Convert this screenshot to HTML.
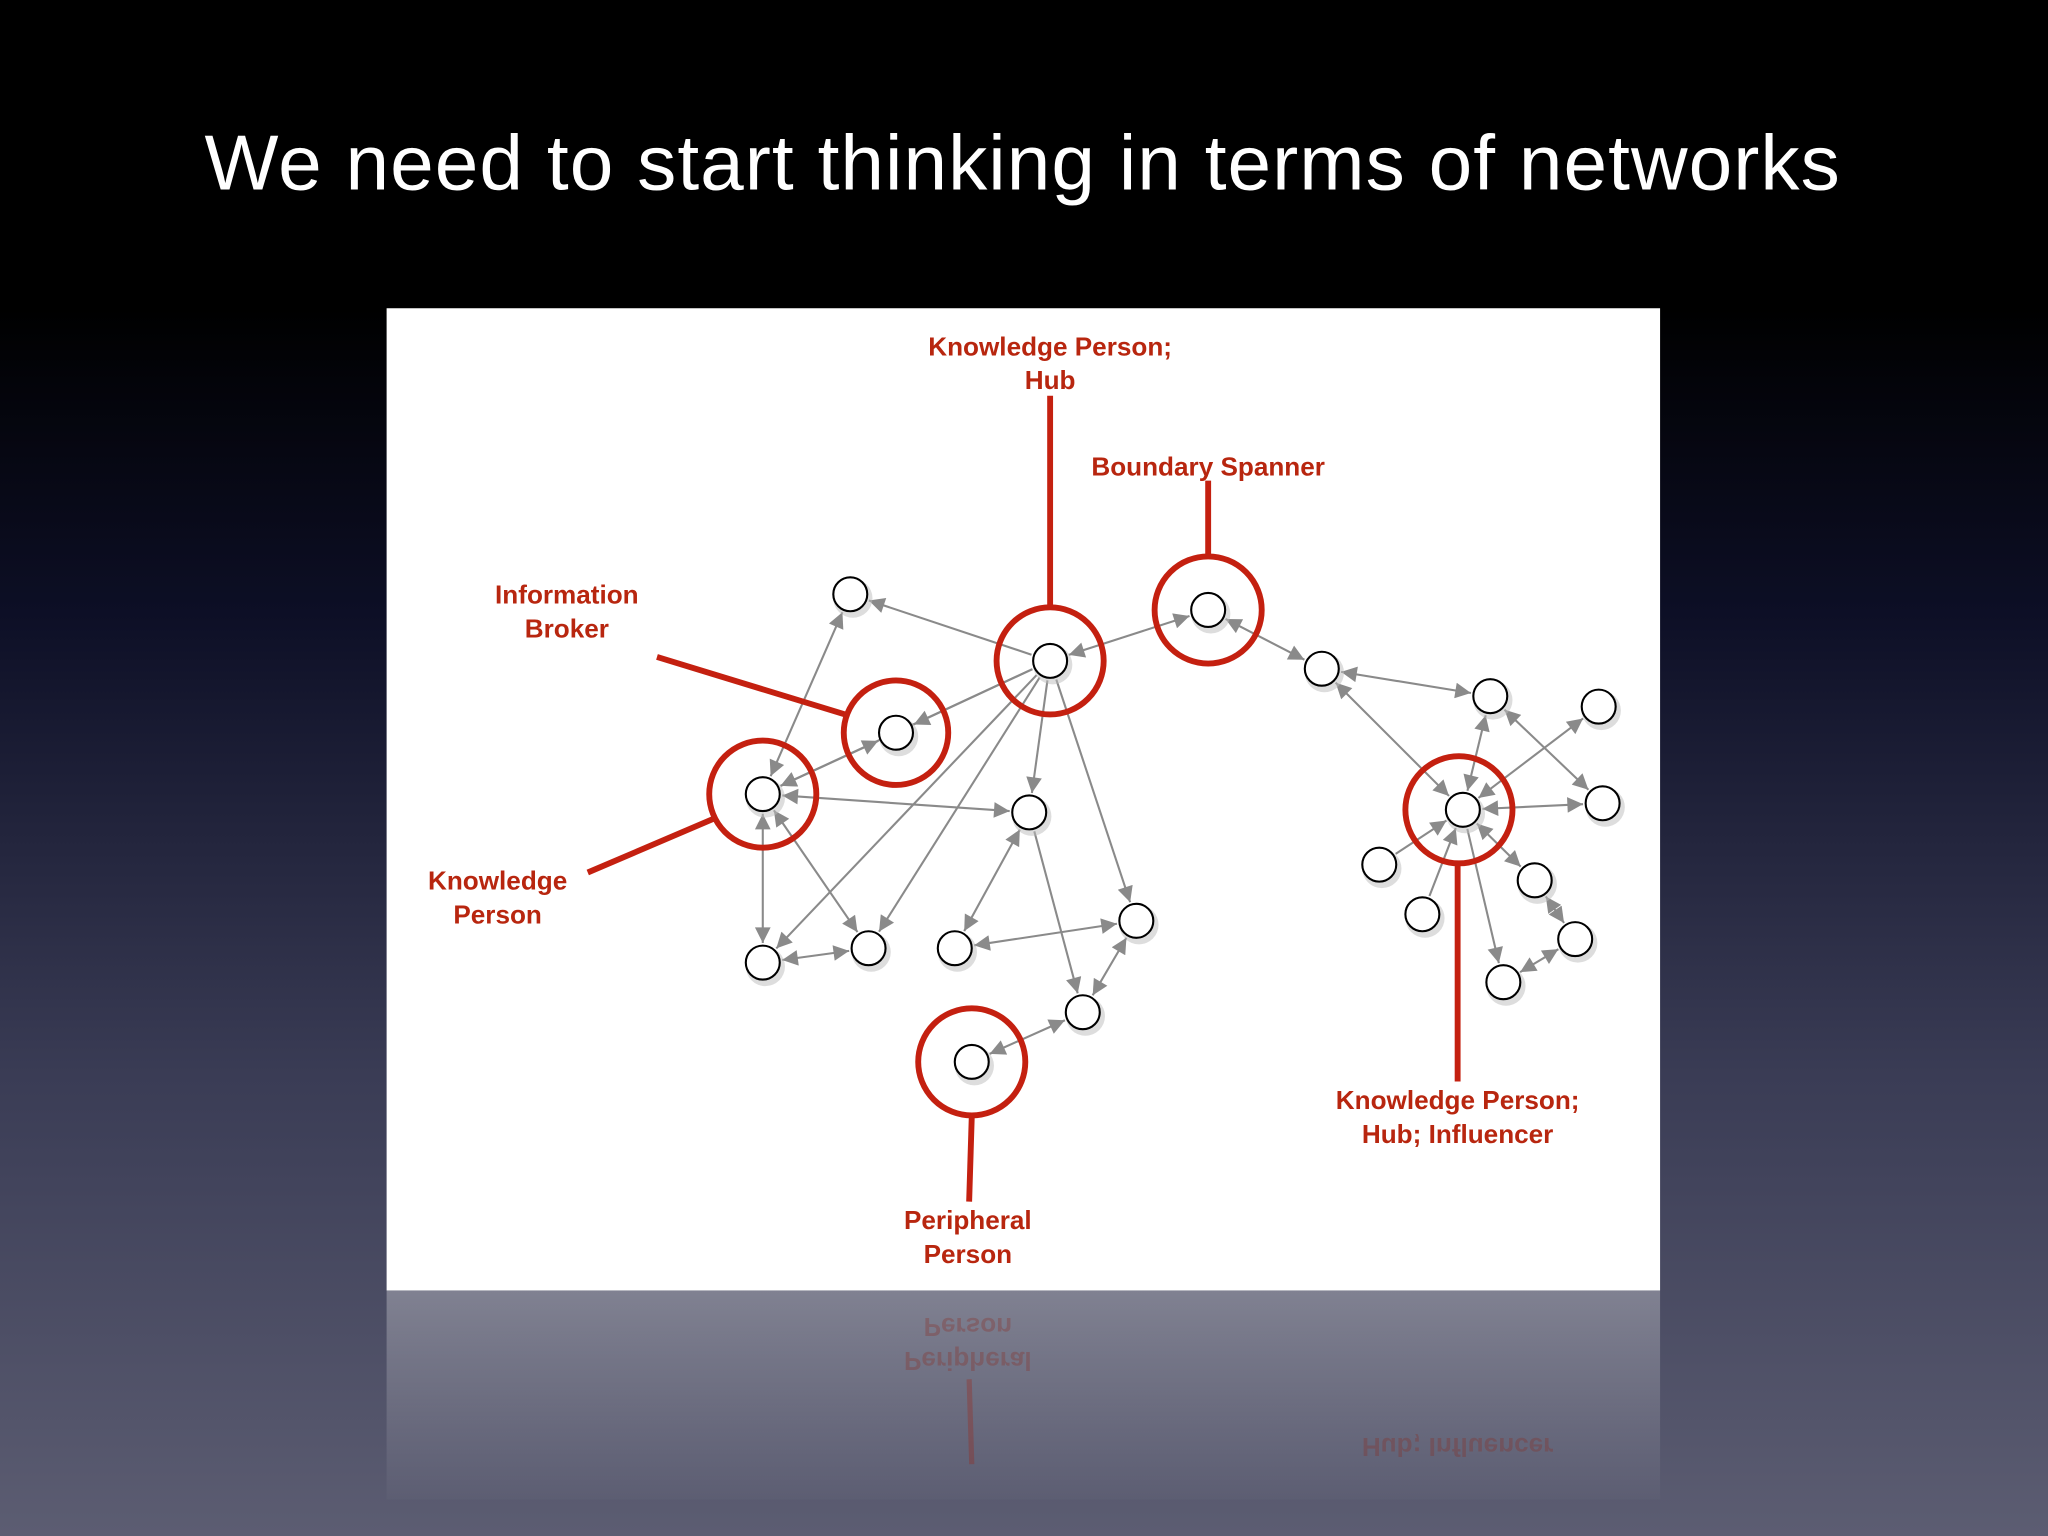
<!DOCTYPE html>
<html><head><meta charset="utf-8"><style>
html,body{margin:0;padding:0;width:2048px;height:1536px;overflow:hidden;background:#000}
svg{display:block}
</style></head><body>
<svg id="s" width="2048" height="1536" viewBox="0 0 1568 1176" xmlns="http://www.w3.org/2000/svg">
<defs>
<linearGradient id="bg" x1="0" y1="0" x2="0" y2="1">
<stop offset="0" stop-color="#000"/>
<stop offset="0.2" stop-color="#000"/>
<stop offset="0.4" stop-color="#0d0f26"/>
<stop offset="0.7" stop-color="#3a3c55"/>
<stop offset="1" stop-color="#5c5d72"/>
</linearGradient>
<linearGradient id="refl" x1="0" y1="0" x2="0" y2="1">
<stop offset="0" stop-color="#fff" stop-opacity="0.3"/>
<stop offset="1" stop-color="#fff" stop-opacity="0.02"/>
</linearGradient>
<marker id="ar2" viewBox="0 0 10 10" refX="10" refY="5" markerWidth="14" markerHeight="12" orient="auto-start-reverse" markerUnits="userSpaceOnUse">
<path d="M0,0 L10,5 L0,10 z" fill="#8a8a8a"/></marker>
</defs>
<rect width="1568" height="1176" fill="url(#bg)"/>
<text x="783" y="145" text-anchor="middle" font-family="Liberation Sans, sans-serif" font-size="60" letter-spacing="0.8" fill="#fff">We need to start thinking in terms of networks</text>
<rect x="296" y="236" width="975" height="752" fill="#fff"/>
<rect x="296" y="988" width="975" height="160" fill="url(#refl)"/>
<g opacity="0.3" font-family="Liberation Sans, sans-serif" font-weight="bold" font-size="20" fill="#8a2a20" text-anchor="middle">
<g transform="translate(0,1976) scale(1,-1)">
<text x="741" y="941">Peripheral</text><text x="741" y="967">Person</text>
<line x1="742" y1="920" x2="744" y2="855" stroke="#a02010" stroke-width="4"/>
<text x="1116" y="875">Hub; Influencer</text>
</g></g>
<g id="edges" stroke="#8a8a8a" stroke-width="1.6" fill="none"></g>
<g id="red" stroke="#c42010" stroke-width="4.5" fill="none">
<line x1="804" y1="303" x2="804" y2="465"/>
<line x1="925" y1="368" x2="925" y2="426"/>
<line x1="503" y1="503" x2="647" y2="547"/>
<line x1="450" y1="668" x2="546" y2="627"/>
<line x1="744" y1="855" x2="742" y2="920"/>
<line x1="1116" y1="662" x2="1116" y2="828"/>
<circle cx="804" cy="506" r="41"/>
<circle cx="925" cy="467" r="41"/>
<circle cx="686" cy="561" r="40"/>
<circle cx="584" cy="608" r="41"/>
<circle cx="744" cy="813" r="41"/>
<circle cx="1117" cy="620" r="41"/>
</g>
<g id="nodes"></g>
<g font-family="Liberation Sans, sans-serif" font-weight="bold" font-size="20" fill="#b8260f" text-anchor="middle">
<text x="804" y="272">Knowledge Person;</text><text x="804" y="298">Hub</text>
<text x="925" y="364">Boundary Spanner</text>
<text x="434" y="462">Information</text><text x="434" y="488">Broker</text>
<text x="381" y="681">Knowledge</text><text x="381" y="707">Person</text>
<text x="741" y="941">Peripheral</text><text x="741" y="967">Person</text>
<text x="1116" y="849">Knowledge Person;</text><text x="1116" y="875">Hub; Influencer</text>
</g>
</svg>
<script>
var N={A:[651,455],H:[804,506],B:[925,467],I:[686,561],K:[584,608],n1:[788,622],n2:[584,737],n3:[665,726],n4:[731,726],n5:[870,705],n6:[829,775],P:[744,813],m1:[1012,512],m2:[1141,533],m3:[1224,541],C:[1120,620],m4:[1227,615],m5:[1056,662],m6:[1089,700],m7:[1175,674],m8:[1206,719],m9:[1151,752]};
var E=[["H","A",0],["H","B",1],["H","I",0],["I","K",1],["A","K",1],["K","n1",1],["H","n1",0],["H","n2",0],["H","n3",0],["H","n5",0],["n1","n6",0],["n1","n4",1],["n4","n5",1],["n5","n6",1],["n6","P",1],["K","n2",1],["K","n3",1],["n2","n3",1],["B","m1",1],["m1","m2",1],["m1","C",1],["m2","C",1],["m2","m4",1],["m3","C",1],["m4","C",1],["m5","C",0],["m6","C",0],["m7","C",1],["m7","m8",1],["m8","m9",1],["C","m9",0],["H","K",0]];
var ns="http://www.w3.org/2000/svg",eg=document.getElementById('edges'),ng=document.getElementById('nodes');
E.forEach(function(e){var a=N[e[0]],b=N[e[1]],dx=b[0]-a[0],dy=b[1]-a[1],d=Math.hypot(dx,dy),ux=dx/d,uy=dy/d,r=15;
var l=document.createElementNS(ns,'line');l.setAttribute('x1',a[0]+ux*r);l.setAttribute('y1',a[1]+uy*r);l.setAttribute('x2',b[0]-ux*r);l.setAttribute('y2',b[1]-uy*r);
l.setAttribute('marker-end','url(#ar2)');if(e[2])l.setAttribute('marker-start','url(#ar2)');eg.appendChild(l);});
for(var k in N){var c=document.createElementNS(ns,'circle');c.setAttribute('cx',N[k][0]+2);c.setAttribute('cy',N[k][1]+3);c.setAttribute('r',15);c.setAttribute('fill','#bbb');c.setAttribute('opacity','0.5');ng.appendChild(c);
c=document.createElementNS(ns,'circle');c.setAttribute('cx',N[k][0]);c.setAttribute('cy',N[k][1]);c.setAttribute('r',13);c.setAttribute('fill','#fff');c.setAttribute('stroke','#000');c.setAttribute('stroke-width','1.6');ng.appendChild(c);}
</script>
</body></html>
